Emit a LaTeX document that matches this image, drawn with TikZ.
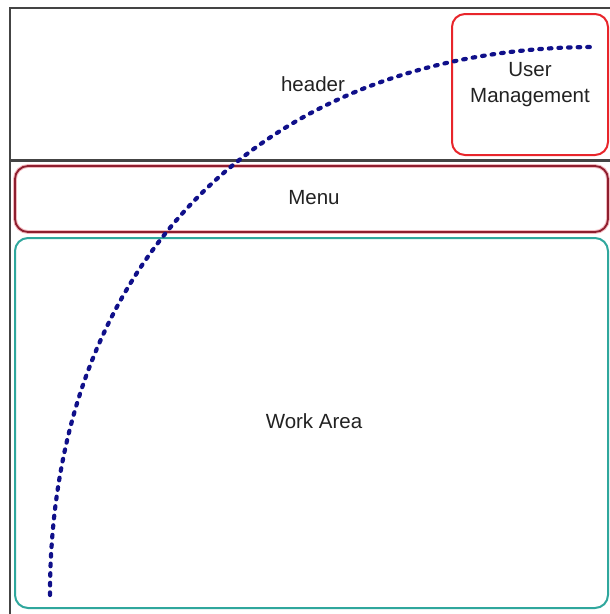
\documentclass[tikz,border=0pt]{standalone}
\usepackage{fontspec}
\setmainfont{Liberation Sans}
\definecolor{framegray}{HTML}{444444}
\definecolor{umred}{HTML}{E8252B}
\definecolor{menured}{HTML}{8E1E2E}
\definecolor{menuhalo}{HTML}{F2B8BE}
\definecolor{workteal}{HTML}{2FA79D}
\definecolor{pathnavy}{HTML}{10108A}
\definecolor{labelgray}{HTML}{222222}
\begin{document}
\begin{tikzpicture}[x=1pt,y=-1pt,
  panel/.style={rounded corners=13pt, line width=2pt, inner sep=0pt,
    font=\fontsize{20.5}{26}\selectfont, text=labelgray, align=center},
  label/.style={font=\fontsize{20.5}{26}\selectfont, text=labelgray},
  flow/.style={pathnavy, line width=4.2pt, line cap=round,
    dash pattern=on 2.6pt off 7pt}]
\useasboundingbox (0,0) rectangle (610,614);
\fill[white] (0,0) rectangle (610,614);

% page frame and header divider
\draw[framegray, line width=2.2pt] (620,8) -- (10,8) -- (10,620);
\draw[framegray, line width=2.2pt] (10,160.5) -- (620,160.5);
\node[label] (header) at (313,84) {header};

% user management panel
\node[panel, draw=umred, minimum width=156pt, minimum height=141pt]
  (user) at (530,84.5) {User\\Management};

% menu bar
\draw[menuhalo, line width=3.8pt, rounded corners=13pt] (15,166) rectangle (608,232);
\node[panel, draw=menured, line width=1.8pt, minimum width=593pt, minimum height=66pt]
  (menu) at (311.5,199) {};
\node[label] (menutext) at (314,198) {Menu};

% work area
\node[panel, draw=workteal, minimum width=593pt, minimum height=370pt]
  (work) at (311.5,423) {};
\node[label] (worktext) at (314,421) {Work Area};

% navigation path
\coordinate (pathstart) at (50,595);
\coordinate (pathend) at (595,47);
\draw[flow] (pathstart) .. controls (50,262) and (265,47) .. (pathend);
\end{tikzpicture}
\end{document}
